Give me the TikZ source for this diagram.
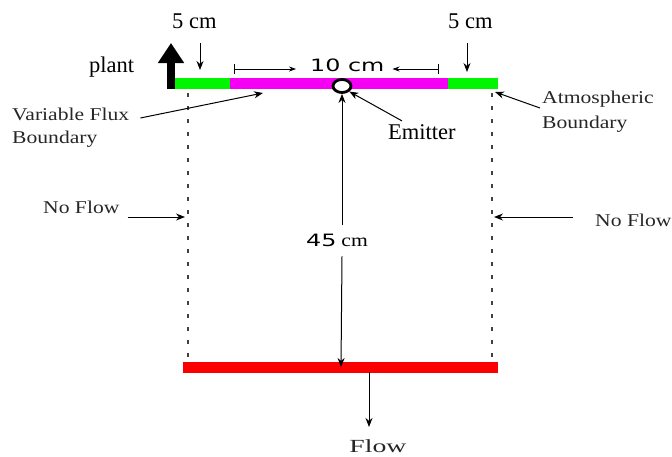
\documentclass[tikz,border=0pt]{standalone}
\usepackage{fontspec}
\setmainfont{Liberation Serif}
\newfontfamily\labelfont[FakeStretch=1.2]{Liberation Serif}
\newfontfamily\flowfont[FakeStretch=1.5]{Liberation Serif}
\newfontfamily\dimfont[FakeStretch=1.4]{DejaVu Sans}
\usetikzlibrary{arrows.meta,calc,positioning,shapes.geometric}
\definecolor{soilgreen}{RGB}{0,245,0}
\definecolor{fluxpink}{RGB}{245,0,245}
\definecolor{drainred}{RGB}{250,0,0}

\begin{document}
\begin{tikzpicture}[x=1pt, y=-1pt, >=Stealth,
  lbl/.style={font=\labelfont\fontsize{18}{20}\selectfont, text=black!85, inner sep=0pt, anchor=base west},
  big/.style={font=\fontsize{22.5}{24}\selectfont, inner sep=0pt, anchor=base west},
  dim/.style={font=\dimfont\fontsize{17}{19}\selectfont, inner sep=0pt, anchor=base west},
  ptr/.style={->, line width=1pt, >={Stealth[length=9pt,width=7pt]}},
  tick/.style={line width=0.8pt, {Bar[width=10pt]}-{Stealth[length=7pt,width=5pt]}},
  wall/.style={black!75, line width=1.4pt, dash pattern=on 4pt off 9pt}]
  \useasboundingbox (0,0) rectangle (672,456);

  % boundaries
  \fill[soilgreen] (175,78) rectangle (230,89);
  \fill[fluxpink] (230,78) rectangle (448,89);
  \fill[soilgreen] (448,78) rectangle (498,89);
  \fill[drainred] (183,362) rectangle (498,373);
  \draw[wall] (188,93) -- (188,362);
  \draw[wall] (492,93) -- (492,362);

  % labels
  \node[big] (cmL) at (172,28) {5 cm};
  \node[big] (cmR) at (448,28) {5 cm};
  \node[big] (plant) at (89,72) {plant};
  \node[dim] (dim10) at (310,71) {10 cm};
  \node[lbl] (vflux) at (12,120) {Variable Flux};
  \node[lbl] (vfluxb) at (12,143) {Boundary};
  \node[big] (emit) at (388,139) {Emitter};
  \node[lbl] (atmo) at (542,103) {Atmospheric};
  \node[lbl] (atmob) at (542,128) {Boundary};
  \node[lbl] (noflowL) at (43,213) {No Flow};
  \node[lbl] (noflowR) at (595,226) {No Flow};
  \node[inner sep=0pt, anchor=base west] (dim45) at (306,246)
    {{\dimfont\fontsize{17}{19}\selectfont 45}\hspace{5pt}{\labelfont\fontsize{18}{20}\selectfont cm}};
  \node[inner sep=0pt, anchor=base, font=\flowfont\fontsize{18.5}{20}\selectfont, text=black!85] (flow) at (378,452) {Flow};

  % emitter
  \node[ellipse, draw, line width=2.8pt, fill=white, minimum width=18pt, minimum height=13pt, inner sep=0pt] (em) at (342,86) {};

  % arrow ends
  \coordinate (plantbase) at (171,89);
  \coordinate (plantup) at (171,43);
  \coordinate (cmLtop) at (200,43);
  \coordinate (cmLtip) at (200,70);
  \coordinate (cmRtop) at (467,43);
  \coordinate (cmRtip) at (467,72);
  \coordinate (tenL) at (234,69);
  \coordinate (tenR) at (439,69);
  \coordinate (tenLtip) at ($(dim10.west)+(-14,0)$);
  \coordinate (tenRtip) at ($(dim10.east)+(8,0)$);
  \coordinate (vfluxtip) at (263,93);
  \coordinate (atmotip) at (495,92);
  \coordinate (wallL) at (185,217);
  \coordinate (wallR) at (494,217);
  \coordinate (drainbar) at (341,367);
  \coordinate (flowtop) at (369,372);

  % arrows
  \draw[line width=8pt, -{Triangle[length=20pt,width=25pt]}] (plantbase) -- (plantup);
  \draw[ptr] (cmLtop) -- (cmLtip);
  \draw[ptr] (cmRtop) -- (cmRtip);
  \draw[tick] (tenL) -- (tenLtip |- tenL);
  \draw[tick] (tenR) -- (tenRtip |- tenR);
  \draw[ptr] ($(vflux.base east)+(11,-2)$) -- (vfluxtip);
  \draw[ptr] ($(emit.north west)+(14,-3)$) -- (em.south east);
  \draw[ptr] ($(atmo.base west)+(-2,5)$) -- (atmotip);
  \draw[ptr] ($(noflowL.base east)+(8,4)$) -- (wallL);
  \draw[ptr] ($(noflowR.base west)+(-22,-9)$) -- (wallR);
  \draw[ptr] (dim45.north -| em) ++(0,-8) coordinate (d45top) -- (em.south);
  \draw[ptr] (dim45.south -| em) ++(0,10) coordinate (d45bot) -- (drainbar);
  \draw[ptr] (flowtop) -- ($(flow.north)+(-9,-12)$);
\end{tikzpicture}
\end{document}
